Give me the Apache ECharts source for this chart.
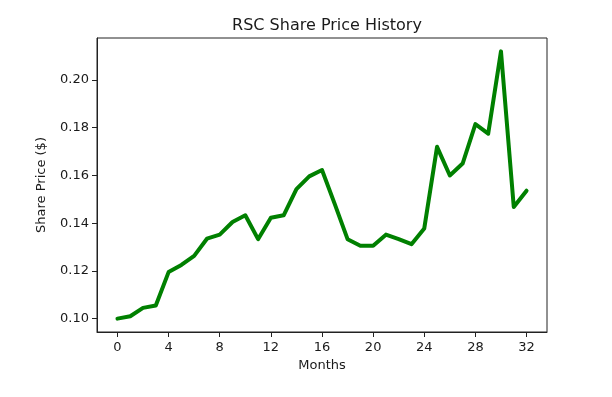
<!DOCTYPE html>
<html>
<head>
<meta charset="utf-8">
<script src="https://cdn.jsdelivr.net/npm/echarts@6/dist/echarts.min.js"></script>
<style>
  html, body { margin: 0; padding: 0; background: #fff; }
  #chart { width: 612px; height: 397px; }
</style>
</head>
<body>
<div id="chart"></div>
<script>
// months 0..32 and share price
const months = [0, 1, 2, 3, 4, 5, 6, 7, 8, 9, 10, 11, 12, 13, 14, 15, 16, 17, 18, 19, 20, 21, 22, 23, 24, 25, 26, 27, 28, 29, 30, 31, 32]
const prices = [0.100, 0.101, 0.1045, 0.1055, 0.1195, 0.1225, 0.1263, 0.1335, 0.1352, 0.1405, 0.1433, 0.1333, 0.1423, 0.1433, 0.1543, 0.1596, 0.1623, 0.148, 0.1333, 0.1305, 0.1305, 0.1352, 0.1333, 0.1312, 0.1378, 0.1720, 0.1600, 0.1650, 0.1815, 0.1775, 0.2120, 0.1468, 0.1536]
const xTicks = [0, 4, 8, 12, 16, 20, 24, 28, 32]
const yTicks = [0.10, 0.12, 0.14, 0.16, 0.18, 0.20]

const chart = echarts.init(document.getElementById('chart'), null, { renderer: 'canvas' })
const font = 'DejaVu Sans'
const ink = '#1a1a1a'

chart.setOption({
  animation: false,
  title: {
    text: 'RSC Share Price History',
    left: 322, top: 13, textAlign: 'center',
    textStyle: { fontFamily: font, fontSize: 16, fontWeight: 'normal', color: ink }
  },
  grid: { left: 97, right: 65, top: 38, bottom: 65, show: true, borderColor: '#222', borderWidth: 1, backgroundColor: '#fff' },
  xAxis: {
    type: 'value', min: -1.6, max: 33.6,
    name: 'Months', nameLocation: 'middle', nameGap: 27,
    nameTextStyle: { fontFamily: font, fontSize: 13, color: ink },
    axisLine: { show: true, onZero: false, lineStyle: { color: '#222', width: 1 } },
    axisTick: { show: true, length: 5, customValues: xTicks, lineStyle: { color: '#222' } },
    axisLabel: { customValues: xTicks, margin: 9, fontFamily: font, fontSize: 13, color: ink, formatter: v => String(v) },
    splitLine: { show: false }
  },
  yAxis: {
    type: 'value', min: 0.0944, max: 0.2176,
    name: 'Share Price ($)', nameLocation: 'middle', nameGap: 49, nameRotate: 90,
    nameTextStyle: { fontFamily: font, fontSize: 13, color: ink },
    axisLine: { show: true, onZero: false, lineStyle: { color: '#222', width: 1 } },
    axisTick: { show: true, length: 5, customValues: yTicks, lineStyle: { color: '#222' } },
    axisLabel: { customValues: yTicks, margin: 8, fontFamily: font, fontSize: 13, color: ink, formatter: v => v.toFixed(2) },
    splitLine: { show: false }
  },
  series: [{
    type: 'line',
    data: months.map((m, i) => [m, prices[i]]),
    showSymbol: false,
    lineStyle: { color: '#008000', width: 4, join: 'round', cap: 'round' },
    itemStyle: { color: '#008000' }
  }]
})
</script>
</body>
</html>
